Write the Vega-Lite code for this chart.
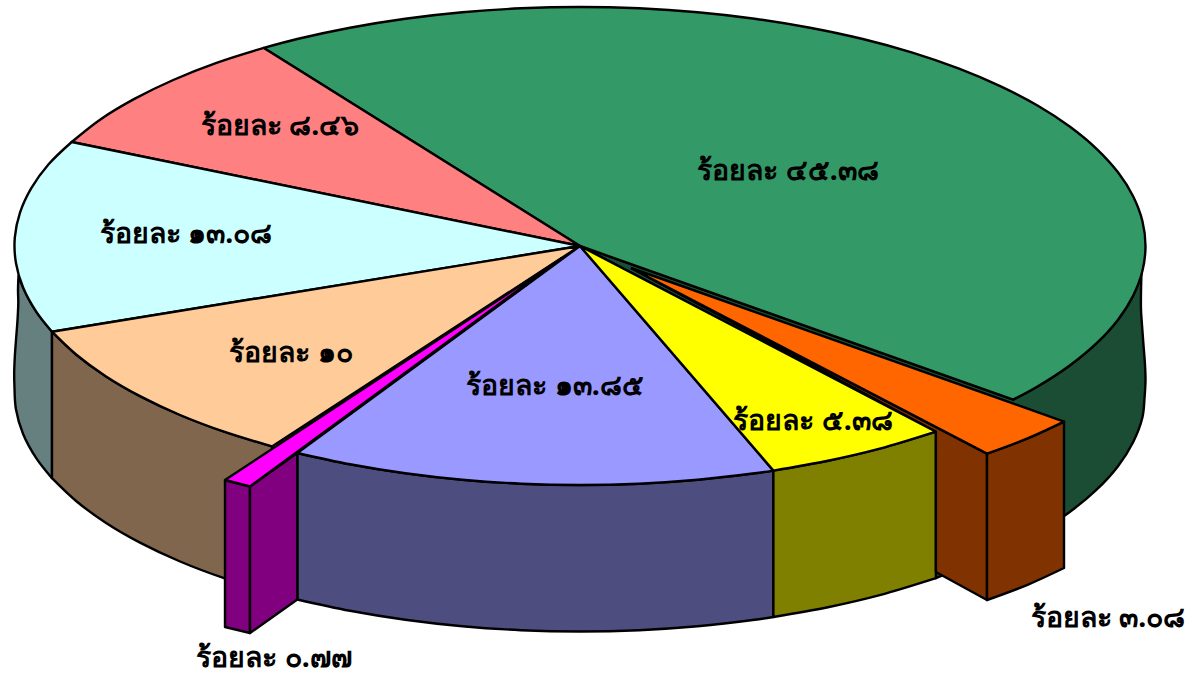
{"$schema":"https://vega.github.io/schema/vega-lite/v6.json","width":1193,"height":675,"autosize":{"type":"fit","contains":"padding"},"padding":0,"background":"white","config":{"view":{"stroke":null}},
"datasets":{"faces":[
{"face":"side45","seq":1,"x":580,"y":246},{"face":"side45","seq":2,"x":1013.2,"y":399.6},{"face":"side45","seq":2.5,"x":1013.2,"y":399.6},{"face":"side45","seq":3,"x":1037.5,"y":386.5},{"face":"side45","seq":4,"x":1069.7,"y":365.5},{"face":"side45","seq":5,"x":1096.6,"y":343.2},{"face":"side45","seq":6,"x":1117.8,"y":319.9},{"face":"side45","seq":7,"x":1133.1,"y":295.7},{"face":"side45","seq":8,"x":1141.5,"y":273},{"face":"side45","seq":8.5,"x":1141.5,"y":273},{"face":"side45","seq":9,"x":1141,"y":292},{"face":"side45","seq":10,"x":1141,"y":310},{"face":"side45","seq":11,"x":1142,"y":325},{"face":"side45","seq":12,"x":1143.5,"y":345},{"face":"side45","seq":13,"x":1145,"y":365},{"face":"side45","seq":14,"x":1145.5,"y":380},{"face":"side45","seq":15,"x":1144.6,"y":397},{"face":"side45","seq":16,"x":1142.4,"y":417.5},{"face":"side45","seq":17,"x":1133.1,"y":442.2},{"face":"side45","seq":18,"x":1117.8,"y":466.4},{"face":"side45","seq":19,"x":1096.6,"y":489.7},{"face":"side45","seq":20,"x":1069.7,"y":512},{"face":"side45","seq":21,"x":1037.5,"y":533},{"face":"side45","seq":22,"x":935.9,"y":578.2},{"face":"side45","seq":22.5,"x":935.9,"y":578.2},{"face":"side45","seq":23,"x":935.9,"y":431.7},{"face":"side45","seq":23.5,"x":935.9,"y":431.7},{"face":"side45","seq":24,"x":580,"y":246},
{"face":"side13a","seq":1,"x":52,"y":331.7},{"face":"side13a","seq":2,"x":36.4,"y":311.9},{"face":"side13a","seq":3,"x":23.1,"y":287.5},{"face":"side13a","seq":4,"x":18.5,"y":276},{"face":"side13a","seq":4.5,"x":18.5,"y":276},{"face":"side13a","seq":5,"x":18,"y":290},{"face":"side13a","seq":6,"x":18.3,"y":303},{"face":"side13a","seq":7,"x":17.5,"y":320},{"face":"side13a","seq":8,"x":16,"y":340},{"face":"side13a","seq":9,"x":14.8,"y":357},{"face":"side13a","seq":10,"x":14.2,"y":373},{"face":"side13a","seq":11,"x":14.4,"y":385},{"face":"side13a","seq":12,"x":15.9,"y":409},{"face":"side13a","seq":13,"x":23.1,"y":434},{"face":"side13a","seq":14,"x":36.4,"y":458.4},{"face":"side13a","seq":15,"x":52,"y":478.2},{"face":"side13a","seq":15.5,"x":52,"y":478.2},{"face":"side13a","seq":16,"x":52,"y":331.7},
{"face":"side10","seq":1,"x":52,"y":331.7},{"face":"side10","seq":2,"x":76.1,"y":354.5},{"face":"side10","seq":3,"x":105.7,"y":376.2},{"face":"side10","seq":4,"x":140.5,"y":396.4},{"face":"side10","seq":5,"x":180.1,"y":415},{"face":"side10","seq":6,"x":224.1,"y":431.7},{"face":"side10","seq":7,"x":272,"y":446.4},{"face":"side10","seq":7.5,"x":272,"y":446.4},{"face":"side10","seq":8,"x":272,"y":592.9},{"face":"side10","seq":8.5,"x":272,"y":592.9},{"face":"side10","seq":9,"x":224.1,"y":578.2},{"face":"side10","seq":10,"x":180.1,"y":561.5},{"face":"side10","seq":11,"x":140.5,"y":542.9},{"face":"side10","seq":12,"x":105.7,"y":522.7},{"face":"side10","seq":13,"x":76.1,"y":501},{"face":"side10","seq":14,"x":52,"y":478.2},{"face":"side10","seq":14.5,"x":52,"y":478.2},{"face":"side10","seq":15,"x":52,"y":331.7},
{"face":"top45","seq":1,"x":580,"y":246},{"face":"top45","seq":2,"x":263.8,"y":47.9},{"face":"top45","seq":2.5,"x":263.8,"y":47.9},{"face":"top45","seq":3,"x":297.2,"y":39},{"face":"top45","seq":4,"x":350,"y":27.7},{"face":"top45","seq":5,"x":405.3,"y":18.7},{"face":"top45","seq":6,"x":462.4,"y":12.2},{"face":"top45","seq":7,"x":520.9,"y":8.3},{"face":"top45","seq":8,"x":580,"y":7},{"face":"top45","seq":9,"x":639.1,"y":8.3},{"face":"top45","seq":10,"x":697.6,"y":12.2},{"face":"top45","seq":11,"x":754.7,"y":18.7},{"face":"top45","seq":12,"x":810,"y":27.7},{"face":"top45","seq":13,"x":862.8,"y":39},{"face":"top45","seq":14,"x":912.4,"y":52.6},{"face":"top45","seq":15,"x":958.4,"y":68.4},{"face":"top45","seq":16,"x":1000.2,"y":86.1},{"face":"top45","seq":17,"x":1037.5,"y":105.5},{"face":"top45","seq":18,"x":1069.7,"y":126.5},{"face":"top45","seq":19,"x":1096.6,"y":148.8},{"face":"top45","seq":20,"x":1117.8,"y":172.1},{"face":"top45","seq":21,"x":1133.1,"y":196.3},{"face":"top45","seq":22,"x":1142.4,"y":221},{"face":"top45","seq":23,"x":1145.5,"y":246},{"face":"top45","seq":24,"x":1142.4,"y":271},{"face":"top45","seq":25,"x":1133.1,"y":295.7},{"face":"top45","seq":26,"x":1117.8,"y":319.9},{"face":"top45","seq":27,"x":1096.6,"y":343.2},{"face":"top45","seq":28,"x":1069.7,"y":365.5},{"face":"top45","seq":29,"x":1037.5,"y":386.5},{"face":"top45","seq":30,"x":1013.2,"y":399.6},{"face":"top45","seq":30.5,"x":1013.2,"y":399.6},{"face":"top45","seq":31,"x":580,"y":246},
{"face":"top8","seq":1,"x":580,"y":246},{"face":"top8","seq":2,"x":71.7,"y":142},{"face":"top8","seq":2.5,"x":71.7,"y":142},{"face":"top8","seq":3,"x":100.4,"y":119.4},{"face":"top8","seq":4,"x":134.4,"y":98.9},{"face":"top8","seq":5,"x":173.2,"y":80},{"face":"top8","seq":6,"x":216.5,"y":62.9},{"face":"top8","seq":7,"x":263.8,"y":47.9},{"face":"top8","seq":7.5,"x":263.8,"y":47.9},{"face":"top8","seq":8,"x":580,"y":246},
{"face":"top13a","seq":1,"x":580,"y":246},{"face":"top13a","seq":2,"x":52,"y":331.7},{"face":"top13a","seq":2.5,"x":52,"y":331.7},{"face":"top13a","seq":3,"x":36.4,"y":311.9},{"face":"top13a","seq":4,"x":23.1,"y":287.5},{"face":"top13a","seq":5,"x":15.9,"y":262.7},{"face":"top13a","seq":6,"x":14.8,"y":237.7},{"face":"top13a","seq":7,"x":20,"y":212.7},{"face":"top13a","seq":8,"x":31.3,"y":188.2},{"face":"top13a","seq":9,"x":48.6,"y":164.3},{"face":"top13a","seq":10,"x":71.7,"y":142},{"face":"top13a","seq":10.5,"x":71.7,"y":142},{"face":"top13a","seq":11,"x":580,"y":246},
{"face":"top10","seq":1,"x":580,"y":246},{"face":"top10","seq":2,"x":272,"y":446.4},{"face":"top10","seq":2.5,"x":272,"y":446.4},{"face":"top10","seq":3,"x":224.1,"y":431.7},{"face":"top10","seq":4,"x":180.1,"y":415},{"face":"top10","seq":5,"x":140.5,"y":396.4},{"face":"top10","seq":6,"x":105.7,"y":376.2},{"face":"top10","seq":7,"x":76.1,"y":354.5},{"face":"top10","seq":8,"x":52,"y":331.7},{"face":"top10","seq":8.5,"x":52,"y":331.7},{"face":"top10","seq":9,"x":580,"y":246},
{"face":"side13b","seq":1,"x":297.3,"y":453},{"face":"side13b","seq":2,"x":350,"y":464.3},{"face":"side13b","seq":3,"x":405.3,"y":473.3},{"face":"side13b","seq":4,"x":462.4,"y":479.8},{"face":"side13b","seq":5,"x":520.9,"y":483.7},{"face":"side13b","seq":6,"x":580,"y":485},{"face":"side13b","seq":7,"x":639.1,"y":483.7},{"face":"side13b","seq":8,"x":697.6,"y":479.8},{"face":"side13b","seq":9,"x":754.7,"y":473.3},{"face":"side13b","seq":10,"x":773.4,"y":470.6},{"face":"side13b","seq":10.5,"x":773.4,"y":470.6},{"face":"side13b","seq":11,"x":773.4,"y":617},{"face":"side13b","seq":11.5,"x":773.4,"y":617},{"face":"side13b","seq":12,"x":754.7,"y":619.8},{"face":"side13b","seq":13,"x":697.6,"y":626.3},{"face":"side13b","seq":14,"x":639.1,"y":630.2},{"face":"side13b","seq":15,"x":580,"y":631.5},{"face":"side13b","seq":16,"x":520.9,"y":630.2},{"face":"side13b","seq":17,"x":462.4,"y":626.3},{"face":"side13b","seq":18,"x":405.3,"y":619.8},{"face":"side13b","seq":19,"x":350,"y":610.8},{"face":"side13b","seq":20,"x":297.3,"y":599.5},{"face":"side13b","seq":20.5,"x":297.3,"y":599.5},{"face":"side13b","seq":21,"x":297.3,"y":453},
{"face":"side5","seq":1,"x":773.4,"y":470.6},{"face":"side5","seq":2,"x":827.9,"y":460.8},{"face":"side5","seq":3,"x":879.7,"y":448.7},{"face":"side5","seq":4,"x":935.9,"y":431.7},{"face":"side5","seq":4.5,"x":935.9,"y":431.7},{"face":"side5","seq":5,"x":935.9,"y":578.2},{"face":"side5","seq":5.5,"x":935.9,"y":578.2},{"face":"side5","seq":6,"x":879.7,"y":595.2},{"face":"side5","seq":7,"x":827.9,"y":607.3},{"face":"side5","seq":8,"x":773.4,"y":617},{"face":"side5","seq":8.5,"x":773.4,"y":617},{"face":"side5","seq":9,"x":773.4,"y":470.6},
{"face":"side3a","seq":1,"x":631,"y":268},{"face":"side3a","seq":2,"x":987,"y":453.6},{"face":"side3a","seq":2.5,"x":987,"y":453.6},{"face":"side3a","seq":3,"x":987,"y":600},{"face":"side3a","seq":3.5,"x":987,"y":600},{"face":"side3a","seq":4,"x":935.9,"y":572},{"face":"side3a","seq":4.5,"x":935.9,"y":572},{"face":"side3a","seq":5,"x":935.9,"y":431.7},{"face":"side3a","seq":5.5,"x":935.9,"y":431.7},{"face":"side3a","seq":6,"x":631,"y":268},
{"face":"side3b","seq":1,"x":987,"y":453.6},{"face":"side3b","seq":2,"x":1027.5,"y":438.4},{"face":"side3b","seq":3,"x":1064,"y":421.6},{"face":"side3b","seq":3.5,"x":1064,"y":421.6},{"face":"side3b","seq":4,"x":1064,"y":568},{"face":"side3b","seq":4.5,"x":1064,"y":568},{"face":"side3b","seq":5,"x":1027.5,"y":584.8},{"face":"side3b","seq":6,"x":987,"y":600},{"face":"side3b","seq":6.5,"x":987,"y":600},{"face":"side3b","seq":7,"x":987,"y":453.6},
{"face":"top3","seq":1,"x":631,"y":268},{"face":"top3","seq":2,"x":987,"y":453.6},{"face":"top3","seq":2.5,"x":987,"y":453.6},{"face":"top3","seq":3,"x":1027.5,"y":438.4},{"face":"top3","seq":4,"x":1064,"y":421.6},{"face":"top3","seq":4.5,"x":1064,"y":421.6},{"face":"top3","seq":5,"x":631,"y":268},
{"face":"top13b","seq":1,"x":580,"y":246},{"face":"top13b","seq":2,"x":773.4,"y":470.6},{"face":"top13b","seq":2.5,"x":773.4,"y":470.6},{"face":"top13b","seq":3,"x":754.7,"y":473.3},{"face":"top13b","seq":4,"x":697.6,"y":479.8},{"face":"top13b","seq":5,"x":639.1,"y":483.7},{"face":"top13b","seq":6,"x":580,"y":485},{"face":"top13b","seq":7,"x":520.9,"y":483.7},{"face":"top13b","seq":8,"x":462.4,"y":479.8},{"face":"top13b","seq":9,"x":405.3,"y":473.3},{"face":"top13b","seq":10,"x":350,"y":464.3},{"face":"top13b","seq":11,"x":297.3,"y":453},{"face":"top13b","seq":11.5,"x":297.3,"y":453},{"face":"top13b","seq":12,"x":580,"y":246},
{"face":"top5","seq":1,"x":580,"y":246},{"face":"top5","seq":2,"x":935.9,"y":431.7},{"face":"top5","seq":2.5,"x":935.9,"y":431.7},{"face":"top5","seq":3,"x":879.7,"y":448.7},{"face":"top5","seq":4,"x":827.9,"y":460.8},{"face":"top5","seq":5,"x":773.4,"y":470.6},{"face":"top5","seq":5.5,"x":773.4,"y":470.6},{"face":"top5","seq":6,"x":580,"y":246}
],
"sliver":[
{"face":"side07a","seq":1,"x":225,"y":480},{"face":"side07a","seq":2,"x":250,"y":486.5},{"face":"side07a","seq":3,"x":250,"y":633},{"face":"side07a","seq":4,"x":225,"y":627},{"face":"side07a","seq":5,"x":225,"y":480},
{"face":"side07b","seq":1,"x":250,"y":486.5},{"face":"side07b","seq":2,"x":297.3,"y":453},{"face":"side07b","seq":3,"x":297.3,"y":599.5},{"face":"side07b","seq":4,"x":250,"y":633},{"face":"side07b","seq":5,"x":250,"y":486.5},
{"face":"top07","seq":1,"x":562,"y":258},{"face":"top07","seq":2,"x":225,"y":480},{"face":"top07","seq":3,"x":250,"y":486.5},{"face":"top07","seq":4,"x":562,"y":258}
],
"labels":[
{"label":"ร้อยละ ๔๕.๓๘","percent":45.38,"x":788,"y":171},
{"label":"ร้อยละ ๘.๔๖","percent":8.46,"x":280,"y":126},
{"label":"ร้อยละ ๑๓.๐๘","percent":13.08,"x":186,"y":234},
{"label":"ร้อยละ ๑๐","percent":10,"x":291,"y":353},
{"label":"ร้อยละ ๑๓.๘๕","percent":13.85,"x":555,"y":386},
{"label":"ร้อยละ ๕.๓๘","percent":5.38,"x":813,"y":421},
{"label":"ร้อยละ ๓.๐๘","percent":3.08,"x":1108,"y":618},
{"label":"ร้อยละ ๐.๗๗","percent":0.77,"x":274,"y":658}
]},
"layer":[
{"data":{"name":"faces"},"mark":{"type":"line","interpolate":"catmull-rom","stroke":"black","strokeWidth":2.4,"strokeJoin":"round","clip":false},
"encoding":{
"x":{"field":"x","type":"quantitative","scale":{"domain":[0,1193],"nice":false,"zero":false},"axis":null},
"y":{"field":"y","type":"quantitative","scale":{"domain":[675,0],"nice":false,"zero":false},"axis":null},
"order":{"field":"seq","type":"quantitative"},
"fill":{"field":"face","type":"nominal","legend":null,"scale":{
"domain":["side45","side13a","side10","top45","top8","top13a","top10","side13b","side5","side3a","side3b","top3","top13b","top5","side07a","side07b","top07"],
"range":["#1A4D33","#668080","#80664D","#339966","#FF8080","#CCFFFF","#FFCC99","#4D4D80","#808000","#803300","#803300","#FF6600","#9999FF","#FFFF00","#800080","#800080","#FF00FF"]}}
}},
{"data":{"name":"sliver"},"mark":{"type":"line","stroke":"black","strokeWidth":2.4,"strokeJoin":"round","clip":false},
"encoding":{
"x":{"field":"x","type":"quantitative","scale":{"domain":[0,1193],"nice":false,"zero":false},"axis":null},
"y":{"field":"y","type":"quantitative","scale":{"domain":[675,0],"nice":false,"zero":false},"axis":null},
"order":{"field":"seq","type":"quantitative"},
"fill":{"field":"face","type":"nominal","legend":null,"scale":{
"domain":["side45","side13a","side10","top45","top8","top13a","top10","side13b","side5","side3a","side3b","top3","top13b","top5","side07a","side07b","top07"],
"range":["#1A4D33","#668080","#80664D","#339966","#FF8080","#CCFFFF","#FFCC99","#4D4D80","#808000","#803300","#803300","#FF6600","#9999FF","#FFFF00","#800080","#800080","#FF00FF"]}}
}},
{"data":{"name":"labels"},"mark":{"type":"text","font":"Noto Sans","fontWeight":"bold","fontSize":28.5,"color":"black","align":"center","baseline":"middle"},
"encoding":{
"x":{"field":"x","type":"quantitative","scale":{"domain":[0,1193],"nice":false,"zero":false},"axis":null},
"y":{"field":"y","type":"quantitative","scale":{"domain":[675,0],"nice":false,"zero":false},"axis":null},
"text":{"field":"label","type":"nominal"}
}}
]}
